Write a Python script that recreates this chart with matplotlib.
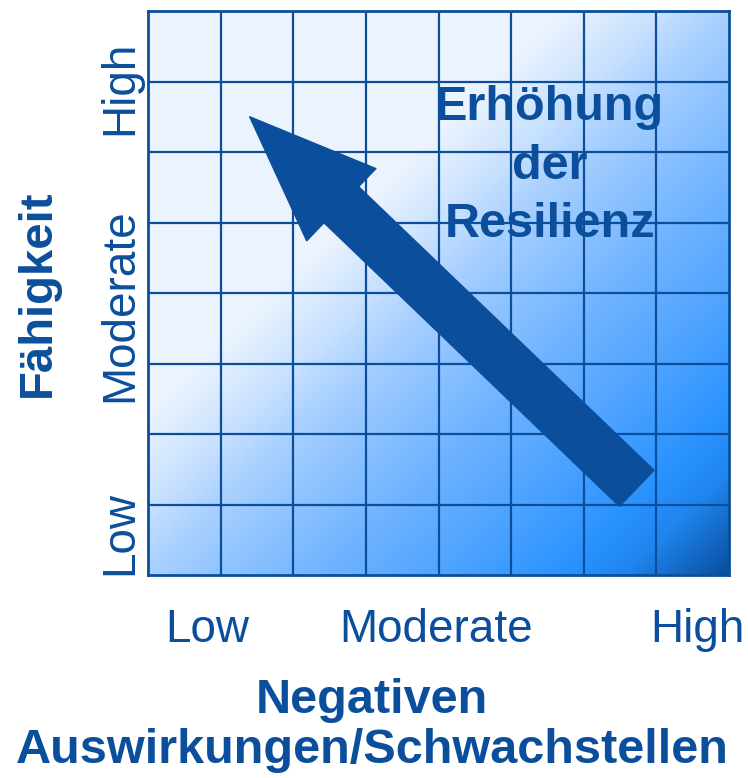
import numpy as np
import matplotlib
matplotlib.use("Agg")
import matplotlib.pyplot as plt
from matplotlib.colors import LinearSegmentedColormap
from matplotlib.patches import FancyArrowPatch

# ---- data ----
n_cells = 8
x_tick_pos = [0.81, 3.97, 7.56]
x_tick_labels = ["Low", "Moderate", "High"]
y_tick_pos = [0.59, 3.83, 6.91]
y_tick_labels = ["Low", "Moderate", "High"]
x_label = "Negativen\nAuswirkungen/Schwachstellen"
y_label = "Fähigkeit"
arrow_tail = (6.73, 1.23)
arrow_head = (1.40, 6.50)
arrow_text = "Erhöhung\nder\nResilienz"
arrow_text_pos = (5.53, 5.80)

# gradient colour stops (position along top-left -> bottom-right diagonal)
grad_stops = [0.00, 0.36, 0.44, 0.50, 0.56, 0.65, 0.75, 0.85, 0.91, 1.00]
grad_colors = ["#EDF5FF", "#EAF3FE", "#C8E1FF", "#A8D0FF", "#90C4FF",
               "#6FB3FF", "#50A4FF", "#2C94FF", "#1F86F0", "#0A4E9E"]

dark = "#0B4F9C"
plt.rcParams['font.family'] = ['Liberation Sans', 'DejaVu Sans']

fig = plt.figure(figsize=(7.48, 7.78), dpi=100)
ax = fig.add_axes([148/748, 1 - 575/778, (729-148)/748, (575-11)/778])

# gradient background
cmap = LinearSegmentedColormap.from_list("g", list(zip(grad_stops, grad_colors)))
res = 400
u = np.linspace(0, 1, res)
v = np.linspace(0, 1, res)
U, V = np.meshgrid(u, v)  # V measured downward from top
T = (U + V) / 2
ax.imshow(T, cmap=cmap, vmin=0, vmax=1, extent=[0, n_cells, 0, n_cells],
          origin="upper", aspect="auto", interpolation="bilinear", zorder=0)

ax.set_xlim(0, n_cells)
ax.set_ylim(0, n_cells)

# grid
ax.set_xticks(np.arange(1, n_cells), minor=True)
ax.set_yticks(np.arange(1, n_cells), minor=True)
ax.grid(which="minor", color=dark, linewidth=1.6, zorder=1)
ax.tick_params(which="both", length=0)
for s in ax.spines.values():
    s.set_color(dark)
    s.set_linewidth(2.0)

ax.set_xticks(x_tick_pos)
ax.set_xticklabels(x_tick_labels, fontsize=33, color=dark)
ax.tick_params(axis="x", which="major", pad=24)
ax.set_yticks(y_tick_pos)
ax.set_yticklabels(y_tick_labels, fontsize=33, color=dark, rotation=90, va="center")
ax.tick_params(axis="y", which="major", pad=4)

ax.set_xlabel(x_label, fontsize=35, fontweight="bold", color=dark, linespacing=1.15,
              ha="center", va="top")
ax.xaxis.set_label_coords((372 - 148) / 581, -(678 - 575) / 564)
ax.set_ylabel(y_label, fontsize=34, fontweight="bold", color=dark, labelpad=28)

# arrow
arr = FancyArrowPatch(arrow_tail, arrow_head,
                      arrowstyle="simple,head_length=2.54,head_width=2.0,tail_width=1.0",
                      mutation_scale=36, color=dark, shrinkA=0, shrinkB=0, zorder=3)
ax.add_patch(arr)

ax.text(arrow_text_pos[0], arrow_text_pos[1], arrow_text, fontsize=35, fontweight="bold",
        color=dark, ha="center", va="center", linespacing=1.38, zorder=4)

fig.savefig("out.png", dpi=100)
